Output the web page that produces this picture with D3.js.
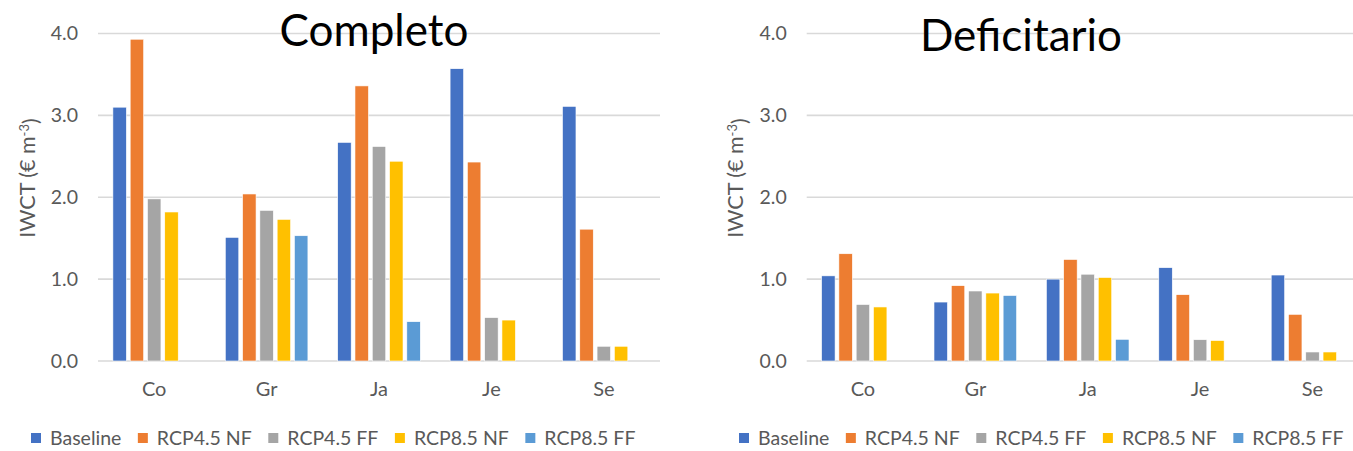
<!DOCTYPE html>
<html>
<head>
<meta charset="utf-8">
<script src="https://cdn.jsdelivr.net/npm/d3@7"></script>
<style>
    html, body { margin: 0; padding: 0; background: #fff; overflow: hidden; }
    svg { display: block; font-family: Lato, "Open Sans", sans-serif; }
</style>
</head>
<body>
<svg id="chart" width="1353" height="451"></svg>
<script>
const categories = ["Co", "Gr", "Ja", "Je", "Se"];
const seriesNames = ["Baseline", "RCP4.5 NF", "RCP4.5 FF", "RCP8.5 NF", "RCP8.5 FF"];
const seriesColors = ["#4472C4", "#ED7D31", "#A5A5A5", "#FFC000", "#5B9BD5"];
const yTicks = [0, 1, 2, 3, 4];

// Completo (null = no bar)
const completoBaseline = [3.1, 1.51, 2.67, 3.57, 3.11];
const completoRcp45NF = [3.93, 2.04, 3.36, 2.43, 1.61];
const completoRcp45FF = [1.98, 1.84, 2.62, 0.53, 0.18];
const completoRcp85NF = [1.82, 1.73, 2.44, 0.5, 0.18];
const completoRcp85FF = [null, 1.53, 0.48, null, null];

// Deficitario
const deficitarioBaseline = [1.04, 0.72, 1.0, 1.14, 1.05];
const deficitarioRcp45NF = [1.31, 0.92, 1.24, 0.81, 0.57];
const deficitarioRcp45FF = [0.69, 0.855, 1.06, 0.26, 0.11];
const deficitarioRcp85NF = [0.66, 0.83, 1.02, 0.25, 0.11];
const deficitarioRcp85FF = [null, 0.8, 0.265, null, null];

const panels = [
    {
        title: "Completo",
        titleX: 374,
        titleY: 46,
        left: 98,
        legendX: 31,
        series: [completoBaseline, completoRcp45NF, completoRcp45FF, completoRcp85NF, completoRcp85FF]
    },
    {
        title: "Deficitario",
        titleX: 1021,
        titleY: 51,
        left: 806.7,
        legendX: 739,
        series: [deficitarioBaseline, deficitarioRcp45NF, deficitarioRcp45FF, deficitarioRcp85NF, deficitarioRcp85FF]
    }
];

const svg = d3.select("#chart");

const plotWidth = 562;
const plotTop = 33.5;
const plotBottom = 361;
const labelColor = "#595959";
const gridColor = "#D9D9D9";

const drawPanel = (panel) => {
    const g = svg.append("g").attr("class", "panel");

    const yScale = d3.scaleLinear().domain([0, 4]).range([plotBottom, plotTop]);
    const xScale = d3.scaleBand().domain(categories).range([panel.left, panel.left + plotWidth]);

    // group of bars takes ~74% of each category band
    const groupWidth = xScale.bandwidth() * 0.735;
    const xInner = d3.scaleBand().domain(d3.range(seriesNames.length)).range([0, groupWidth]).paddingInner(0.22);

    // gridlines
    g.append("g")
        .attr("class", "grid")
        .selectAll("line")
        .data(yTicks)
        .join("line")
        .attr("x1", panel.left)
        .attr("x2", panel.left + plotWidth)
        .attr("y1", (d) => yScale(d))
        .attr("y2", (d) => yScale(d))
        .attr("stroke", gridColor)
        .attr("stroke-width", 1.6);

    // y tick labels
    const yAxis = d3.axisLeft(yScale).tickValues(yTicks).tickFormat(d3.format(".1f")).tickSize(0).tickPadding(20);
    const yAxisG = g.append("g").attr("transform", `translate(${panel.left},0)`).call(yAxis);
    yAxisG.select(".domain").remove();
    yAxisG.selectAll("text").attr("font-size", 19.5).attr("fill", labelColor).attr("font-family", "Lato, sans-serif");

    // x tick labels
    const xAxis = d3.axisBottom(xScale).tickSize(0).tickPadding(21);
    const xAxisG = g.append("g").attr("transform", `translate(0,${plotBottom})`).call(xAxis);
    xAxisG.select(".domain").remove();
    xAxisG.selectAll("text").attr("font-size", 20).attr("fill", labelColor).attr("font-family", "Lato, sans-serif");

    // bars
    const bars = [];
    panel.series.forEach((values, si) => {
        values.forEach((v, ci) => {
            if (v != null) {
                bars.push({ series: si, category: categories[ci], value: v });
            }
        });
    });

    g.append("g")
        .attr("class", "bars")
        .selectAll("rect")
        .data(bars)
        .join("rect")
        .attr("x", (d) => xScale(d.category) + (xScale.bandwidth() - groupWidth) / 2 + xInner(d.series))
        .attr("y", (d) => yScale(d.value))
        .attr("width", xInner.bandwidth())
        .attr("height", (d) => yScale(0) - yScale(d.value))
        .attr("fill", (d) => seriesColors[d.series])
        .attr("stroke", "#fff")
        .attr("stroke-width", 0.6);

    // y axis title
    const yTitle = g.append("text")
        .attr("transform", `translate(${panel.left - 71},178) rotate(-90)`)
        .attr("text-anchor", "middle")
        .attr("dy", "0.35em")
        .attr("font-size", 21.5)
        .attr("fill", labelColor);
    yTitle.append("tspan").text("IWCT (€ m");
    yTitle.append("tspan").attr("dy", "-0.45em").attr("font-size", 13).text("-3");
    yTitle.append("tspan").attr("dy", "0.45em").text(")");

    // chart title
    g.append("text")
        .attr("x", panel.titleX)
        .attr("y", panel.titleY)
        .attr("text-anchor", "middle")
        .attr("font-size", 44)
        .attr("fill", "#000")
        .text(panel.title);

    // legend
    const legend = g.append("g").attr("class", "legend").attr("transform", "translate(0,438)");
    let lx = panel.legendX;
    seriesNames.forEach((name, i) => {
        legend.append("rect")
            .attr("x", lx)
            .attr("y", -5)
            .attr("width", 10)
            .attr("height", 10)
            .attr("fill", seriesColors[i]);
        const t = legend.append("text")
            .attr("x", lx + 19)
            .attr("y", 6.5)
            .attr("font-size", 19.5)
            .attr("fill", labelColor)
            .text(name);
        lx += 19 + t.node().getComputedTextLength() + 16.5;
    });
};

panels.forEach(drawPanel);
</script>
</body>
</html>
